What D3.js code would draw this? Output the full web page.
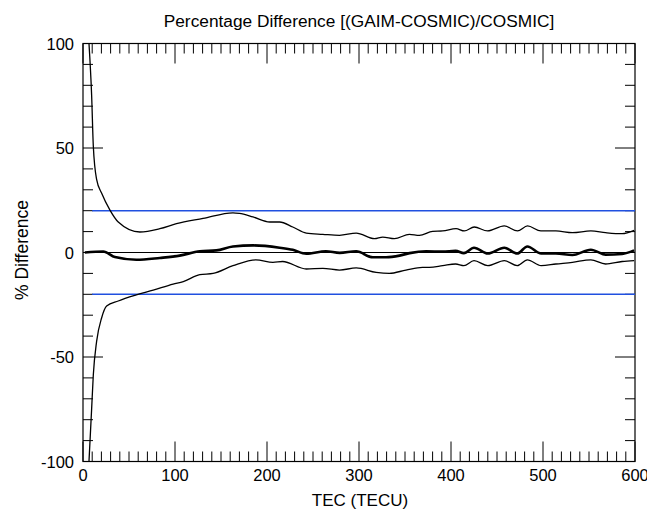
<!DOCTYPE html>
<html>
<head>
<meta charset="utf-8">
<script src="https://cdn.jsdelivr.net/npm/d3@7"></script>
<style>
  body { margin: 0; background: #fff; }
  svg text { font-family: "Liberation Sans", Arial, sans-serif; fill: #000; }
</style>
</head>
<body>
<svg id="chart" width="647" height="512"></svg>
<script>
// upper bound curve (mean + spread), [TEC, % diff]
var upperCurve = [
  [6.5, 100], [9.4, 75], [11.2, 51], [14.8, 35], [20.3, 28.3], [29.3, 20.3], [38.3, 14.6],
  [61.8, 9.8], [83.5, 11.4], [101.6, 13.8], [130.5, 16.3], [163, 19], [170, 18.7],
  [184.8, 17], [203, 14.6], [213.7, 14.6], [228, 12.2], [242.7, 9.3], [260.7, 8.7],
  [278.8, 8.2], [297, 9.3], [316.8, 6.6], [325.8, 7.4], [338.5, 6.6], [354.8, 8.7],
  [365.6, 8.2], [380, 10.1], [391, 10.3], [405.5, 11.4], [414.5, 10.3], [425.3, 12.2],
  [439.7, 10.3], [457.9, 12.7], [472.3, 10.3], [483.2, 12.7], [497.7, 10.3], [514, 10.3],
  [532, 9.5], [552, 10.3], [568, 9.5], [586, 9], [599, 10.6]
];

// mean difference (thick line)
var meanCurve = [
  [2, 0], [22, 0.5], [34.7, -2.2], [58, -3.5], [83.5, -2.6], [105, -1.5], [127, 0.6],
  [145, 1], [163, 2.9], [185, 3.4], [213.7, 2.3], [228, 1.3], [242.7, -0.6], [264, 0.6],
  [279, -0.2], [297, 0.6], [315, -2.3], [329.5, -2.3], [344, -1.5], [355, -0.3],
  [373, 0.6], [391, 0.4], [405, 0.8], [414, -0.3], [425, 2.3], [440, -0.5], [458, 2.3],
  [472, -0.5], [483, 2.9], [498, -0.5], [514, -0.5], [532, -1.2], [552, 1.3], [568, -1],
  [586, -0.7], [599, 1]
];

// lower bound curve (mean - spread)
var lowerCurve = [
  [6.5, -100], [9.4, -74.7], [11.2, -58.6], [14.8, -42.5], [20.3, -31.2], [25.7, -25.6],
  [38.3, -23.2], [58, -20.3], [76.3, -18], [98, -15.1], [109, -13.9], [127, -10.6],
  [141.4, -10], [163, -6.3], [188, -3.5], [206.5, -4.7], [217, -4.3], [242.7, -7.9],
  [260.7, -7.6], [278.8, -8.4], [297, -7.4], [318.6, -9.5], [333, -10], [351, -8.4],
  [369, -7.1], [376.5, -7.1], [391, -6.3], [405, -5.5], [414, -6.3], [425, -3.9],
  [440, -6.3], [458, -3.9], [472, -6.3], [483, -3.5], [498, -6.3], [514, -5.5],
  [532, -4.7], [552, -3.5], [568, -5.5], [586, -4.3], [599, -3.9]
];

var limitLines = [20, -20];
var limitStart = 10;

var xTicks = [0, 100, 200, 300, 400, 500, 600];
var yTicks = [-100, -50, 0, 50, 100];

var svg = d3.select('#chart');
var plotL = 83, plotR = 635, plotT = 43.5, plotB = 461.5;

var x = d3.scaleLinear().domain([0, 600]).range([plotL, plotR]);
var y = d3.scaleLinear().domain([-100, 100]).range([plotB, plotT]);

var xMinor = d3.range(0, 601, 10).filter(function(d) { return d % 100 !== 0; });
var yMinor = d3.range(-100, 101, 10).filter(function(d) { return d % 50 !== 0; });

// frame
svg.append('rect')
  .attr('x', plotL).attr('y', plotT)
  .attr('width', plotR - plotL).attr('height', plotB - plotT)
  .attr('fill', 'none').attr('stroke', '#000').attr('stroke-width', 1.2);

// inward ticks on all four sides
function ticksX(values, len) {
  values.forEach(function(v) {
    svg.append('line').attr('x1', x(v)).attr('x2', x(v))
      .attr('y1', plotB).attr('y2', plotB - len).attr('stroke', '#000');
    svg.append('line').attr('x1', x(v)).attr('x2', x(v))
      .attr('y1', plotT).attr('y2', plotT + len).attr('stroke', '#000');
  });
}
function ticksY(values, len) {
  values.forEach(function(v) {
    svg.append('line').attr('y1', y(v)).attr('y2', y(v))
      .attr('x1', plotL).attr('x2', plotL + len).attr('stroke', '#000');
    svg.append('line').attr('y1', y(v)).attr('y2', y(v))
      .attr('x1', plotR).attr('x2', plotR - len).attr('stroke', '#000');
  });
}
ticksX(xMinor, 10);
ticksX(xTicks, 20);
ticksY(yMinor, 10);
ticksY(yTicks, 20);

// tick labels
svg.selectAll('.xl').data(xTicks).enter().append('text')
  .attr('x', function(d) { return x(d); }).attr('y', plotB + 19)
  .attr('text-anchor', 'middle').attr('font-size', 16.5)
  .text(function(d) { return d; });
svg.selectAll('.yl').data(yTicks).enter().append('text')
  .attr('x', plotL - 9).attr('y', function(d) { return y(d) + 6; })
  .attr('text-anchor', 'end').attr('font-size', 16.5)
  .text(function(d) { return d; });

// titles
svg.append('text').attr('x', 359).attr('y', 27)
  .attr('text-anchor', 'middle').attr('font-size', 17.3)
  .text('Percentage Difference [(GAIM-COSMIC)/COSMIC]');
svg.append('text').attr('x', 360).attr('y', 506)
  .attr('text-anchor', 'middle').attr('font-size', 17)
  .text('TEC (TECU)');
svg.append('text')
  .attr('transform', 'translate(28,250) rotate(-90)')
  .attr('text-anchor', 'middle').attr('font-size', 17.5)
  .text('% Difference');

// zero line and +/-20 % limits
svg.append('line').attr('x1', x(0)).attr('x2', x(600))
  .attr('y1', y(0)).attr('y2', y(0)).attr('stroke', '#000').attr('stroke-width', 1);
svg.selectAll('.lim').data(limitLines).enter().append('line')
  .attr('x1', x(limitStart)).attr('x2', x(600))
  .attr('y1', function(d) { return y(d); }).attr('y2', function(d) { return y(d); })
  .attr('stroke', '#2050e0').attr('stroke-width', 1.5);

var line = d3.line()
  .x(function(d) { return x(d[0]); })
  .y(function(d) { return y(d[1]); })
  .curve(d3.curveMonotoneX);

svg.append('path').datum(upperCurve).attr('d', line)
  .attr('fill', 'none').attr('stroke', '#000').attr('stroke-width', 1.3);
svg.append('path').datum(lowerCurve).attr('d', line)
  .attr('fill', 'none').attr('stroke', '#000').attr('stroke-width', 1.3);
svg.append('path').datum(meanCurve).attr('d', line)
  .attr('fill', 'none').attr('stroke', '#000').attr('stroke-width', 2.6);
</script>
</body>
</html>
